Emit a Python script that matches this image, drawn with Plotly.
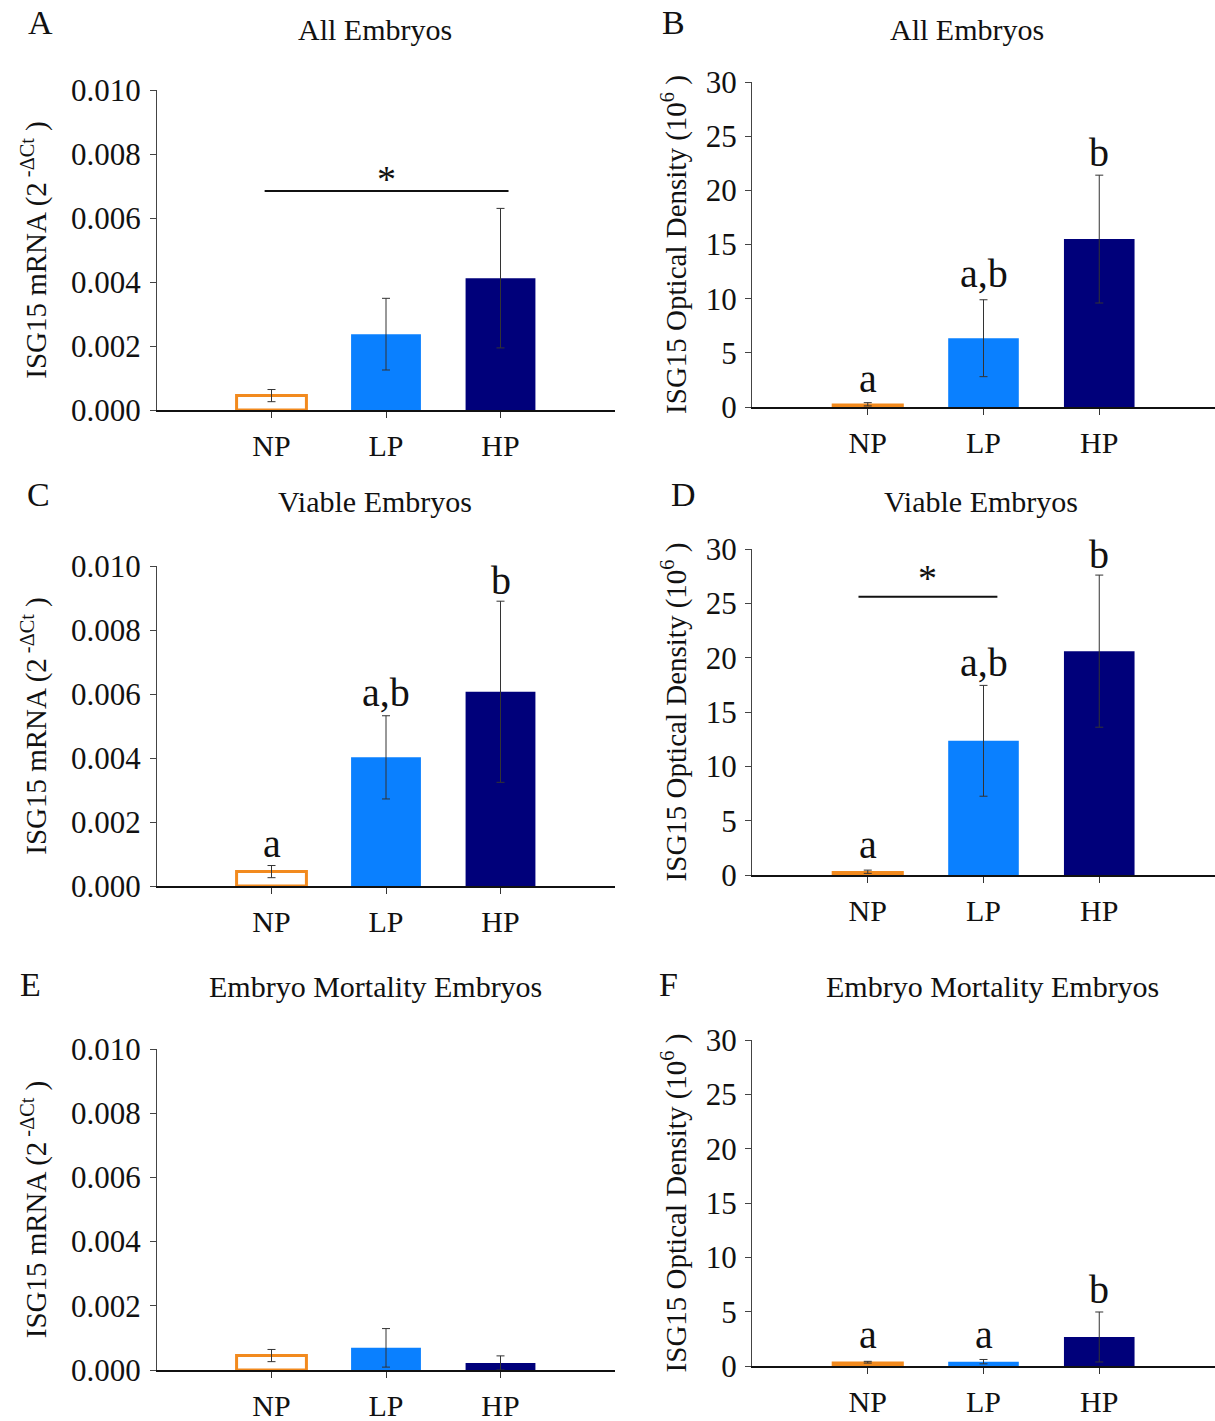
import plotly.graph_objects as go

W, H = 1215, 1421

categories = ["NP", "LP", "HP"]

# Panel A: All embryos, ISG15 mRNA
a_mean = [0.00045, 0.00237, 0.00412]
a_err = [0.00019, 0.00112, 0.00218]
# Panel B: All embryos, optical density
b_mean = [0.25, 6.35, 15.5]
b_err = [0.15, 3.55, 5.9]
# Panel C: Viable embryos, mRNA
c_mean = [0.00045, 0.00402, 0.00607]
c_err = [0.00019, 0.0013, 0.00283]
# Panel D: Viable embryos, optical density
d_mean = [0.3, 12.35, 20.6]
d_err = [0.15, 5.1, 7.0]
# Panel E: Embryo mortality, mRNA
e_mean = [0.00045, 0.00069, 0.00022]
e_err = [0.00019, 0.0006, 0.00022]
# Panel F: Embryo mortality, optical density
f_mean = [0.35, 0.4, 2.67]
f_err = [0.08, 0.2, 2.3]

panel_letters = ["A", "B", "C", "D", "E", "F"]
panel_titles = ["All Embryos", "All Embryos", "Viable Embryos", "Viable Embryos",
                "Embryo Mortality Embryos", "Embryo Mortality Embryos"]

mrna_title = "ISG15 mRNA (2<sup> -ΔCt</sup> )"
od_title = "ISG15 Optical Density (10<sup>6</sup> )"
mrna_ticks = [0.0, 0.002, 0.004, 0.006, 0.008, 0.010]
od_ticks = [0, 5, 10, 15, 20, 25, 30]

# significance letters: (panel index, category index, y, text)
sig_letters = [
    (1, 0, 2.6, "a"), (1, 1, 12.3, "a,b"), (1, 2, 23.5, "b"),
    (2, 0, 0.00132, "a"), (2, 1, 0.00605, "a,b"), (2, 2, 0.00955, "b"),
    (3, 0, 2.8, "a"), (3, 1, 19.6, "a,b"), (3, 2, 29.5, "b"),
    (5, 0, 2.9, "a"), (5, 1, 2.9, "a"), (5, 2, 7.0, "b"),
]
# bracket lines: (panel index, x0, x1, y, star y)
brackets = [
    (0, -0.06, 2.07, 0.00684, 0.00722),
    (3, -0.08, 1.12, 25.6, 27.3),
]

ORANGE = "#F28A1E"
LBLUE = "#0A80FF"
NAVY = "#00007A"
FONT = "Liberation Serif, Times New Roman, serif"
TXT = "#111111"

# pixel geometry per panel: x0, x1 (axis), y of zero, y of top
geom = [
    (157, 615, 410, 90),
    (752, 1215, 407, 82),
    (157, 615, 886, 566),
    (752, 1215, 875, 549),
    (157, 615, 1370, 1049),
    (752, 1215, 1366, 1040),
]
title_pos = [(375, 30), (967, 30), (375, 502), (981, 502), (375, 986), (992, 986)]
letter_pos = [(40, 22), (673, 22), (38, 494), (683, 494), (30, 984), (668, 984)]

means = [a_mean, b_mean, c_mean, d_mean, e_mean, f_mean]
errs = [a_err, b_err, c_err, d_err, e_err, f_err]

fig = go.Figure()
annotations = []
shapes = []
layout = {}

for i in range(6):
    is_mrna = (i % 2 == 0)
    ax = "" if i == 0 else str(i + 1)
    xref = "x" + ax
    yref = "y" + ax
    x0, x1, yz, yt = geom[i]
    xdom = [x0 / W, min(x1 / W, 1.0)]
    ydom = [1 - yz / H, 1 - yt / H]
    xs = [0, 1, 2]
    colors_fill = ["white" if is_mrna else ORANGE, LBLUE, NAVY]
    colors_line = [ORANGE, LBLUE, NAVY]
    line_w = [3 if is_mrna else 1.5, 0, 0]
    fig.add_trace(go.Bar(
        x=xs, y=means[i], xaxis=xref, yaxis=yref, width=0.61,
        marker=dict(color=colors_fill, line=dict(color=colors_line, width=line_w)),
        error_y=dict(type="data", array=errs[i], visible=True, color="#333333",
                     thickness=1, width=4),
        showlegend=False, hoverinfo="skip",
    ))
    layout["xaxis" + ax] = dict(
        domain=xdom, anchor=yref, range=[-1, 3], tickvals=xs, ticktext=categories,
        showline=True, linecolor=TXT, linewidth=1.5, ticks="outside",
        ticklen=6, tickcolor="#333333", tickwidth=1, showgrid=False, zeroline=False,
        tickfont=dict(family=FONT, size=30, color=TXT), ticklabelstandoff=2,
        fixedrange=True, automargin=False,
    )
    if is_mrna:
        yax = dict(range=[0, 0.010], tickvals=mrna_ticks, tickformat=".3f",
                   ticklabelstandoff=3,
                   title=dict(text=mrna_title, standoff=15,
                              font=dict(family=FONT, size=29, color=TXT)))
    else:
        yax = dict(range=[0, 30], tickvals=od_ticks, ticklabelstandoff=2,
                   title=dict(text=od_title, standoff=10,
                              font=dict(family=FONT, size=29, color=TXT)))
    yax.update(domain=ydom, anchor=xref, showline=True, linecolor="#444444",
               linewidth=1, ticks="outside", ticklen=6, tickcolor="#444444",
               showgrid=False, zeroline=False,
               tickfont=dict(family=FONT, size=31, color=TXT), fixedrange=True,
               automargin=False)
    layout["yaxis" + ax] = yax

    tx, ty = title_pos[i]
    annotations.append(dict(text=panel_titles[i], x=tx / W, y=1 - ty / H, xref="paper",
                            yref="paper", showarrow=False, xanchor="center",
                            yanchor="middle", font=dict(family=FONT, size=30, color=TXT)))
    lx, ly = letter_pos[i]
    annotations.append(dict(text=panel_letters[i], x=lx / W, y=1 - ly / H, xref="paper",
                            yref="paper", showarrow=False, xanchor="center",
                            yanchor="middle", font=dict(family=FONT, size=34, color=TXT)))

for (p, ci, yv, txt) in sig_letters:
    ax = "" if p == 0 else str(p + 1)
    annotations.append(dict(text=txt, x=ci, y=yv, xref="x" + ax, yref="y" + ax,
                            showarrow=False, xanchor="center", yanchor="middle",
                            font=dict(family=FONT, size=40, color=TXT)))

for (p, bx0, bx1, by, sy) in brackets:
    ax = "" if p == 0 else str(p + 1)
    shapes.append(dict(type="line", x0=bx0, x1=bx1, y0=by, y1=by, xref="x" + ax,
                       yref="y" + ax, line=dict(color=TXT, width=2)))
    annotations.append(dict(text="*", x=(bx0 + bx1) / 2, y=sy, xref="x" + ax,
                            yref="y" + ax, showarrow=False, xanchor="center",
                            yanchor="middle", font=dict(family=FONT, size=38, color=TXT)))

fig.update_layout(
    width=W, height=H, margin=dict(l=0, r=0, t=0, b=0, autoexpand=False),
    paper_bgcolor="white", plot_bgcolor="white",
    annotations=annotations, shapes=shapes, bargap=0.4,
    **layout,
)

fig.write_html("out.html")
